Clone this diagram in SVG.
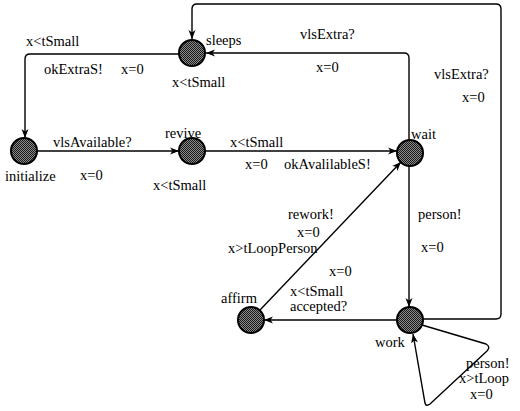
<svg xmlns="http://www.w3.org/2000/svg" width="520" height="411" viewBox="0 0 520 411" font-family="'Liberation Serif', 'Times New Roman', serif">
<defs>
<pattern id="dots" width="2" height="2" patternUnits="userSpaceOnUse">
<rect width="2" height="2" fill="#8a8a8a"/>
<rect width="1" height="1" fill="#1a1a1a"/>
<rect x="1" y="1" width="1" height="1" fill="#1a1a1a"/>
</pattern>
<marker id="arr" markerWidth="10" markerHeight="8" refX="9" refY="4" orient="auto" markerUnits="userSpaceOnUse">
<path d="M0,0.5 L9,4 L0,7.5 L2.5,4 Z" fill="#000"/>
</marker>
<style>
.n{fill:url(#dots);stroke:#000;stroke-width:2}
.e{fill:none;stroke:#000;stroke-width:1.4;marker-end:url(#arr)}
text{font-family:'Liberation Serif','Times New Roman',serif;font-size:14.5px;fill:#000}
</style>
</defs>
<rect width="520" height="411" fill="#fff"/>
<g id="connectors">
<path class="e" d="M179,54 H30 Q25,54 25,59 V138"/>
<path class="e" d="M37,151 H179"/>
<path class="e" d="M205,151 H397"/>
<path class="e" d="M409,140 V58 Q409,53 404,53 H206"/>
<path class="e" d="M409,166 V307"/>
<path class="e" d="M423,319 H496 Q501,319 501,314 V9 Q501,4 496,4 H197 Q192,4 192,9 V39"/>
<path class="e" d="M260,310 L401,162"/>
<path class="e" d="M397,320 H264"/>
<path class="e" d="M422,325 L486,344 Q491,347 487,351 L430,404 Q426,407 425,403 L413,334"/>
<text x="26" y="46">x&lt;tSmall</text>
<text x="44" y="74">okExtraS!</text>
<text x="121" y="74">x=0</text>
<text x="300" y="39">vlsExtra?</text>
<text x="316" y="72">x=0</text>
<text x="434" y="79">vlsExtra?</text>
<text x="462" y="102">x=0</text>
<text x="53" y="147">vlsAvailable?</text>
<text x="80" y="180">x=0</text>
<text x="230" y="147">x&lt;tSmall</text>
<text x="245" y="169">x=0</text>
<text x="284" y="169">okAvalilableS!</text>
<text x="288" y="219">rework!</text>
<text x="297" y="237">x=0</text>
<text x="228" y="253">x&gt;tLoopPerson</text>
<text x="418" y="219">person!</text>
<text x="421" y="252">x=0</text>
<text x="329" y="276">x=0</text>
<text x="290" y="296">x&lt;tSmall</text>
<text x="290" y="311">accepted?</text>
<text x="466" y="368">person!</text>
<text x="459" y="383">x&gt;tLoop</text>
<text x="470" y="399">x=0</text>
</g>
<g id="sleeps"><circle class="n" cx="192" cy="53" r="13"/><text x="206" y="45">sleeps</text><text x="172" y="87">x&lt;tSmall</text></g>
<g id="initialize"><circle class="n" cx="24" cy="151" r="13"/><text x="5" y="181">initialize</text></g>
<g id="revive"><circle class="n" cx="192" cy="151" r="13"/><text x="165" y="138">revive</text><text x="153" y="190">x&lt;tSmall</text></g>
<g id="wait"><circle class="n" cx="410" cy="153" r="13"/><text x="411" y="139">wait</text></g>
<g id="work"><circle class="n" cx="410" cy="320" r="13"/><text x="375" y="347">work</text></g>
<g id="affirm"><circle class="n" cx="251" cy="320" r="13"/><text x="221" y="303">affirm</text></g>
</svg>
